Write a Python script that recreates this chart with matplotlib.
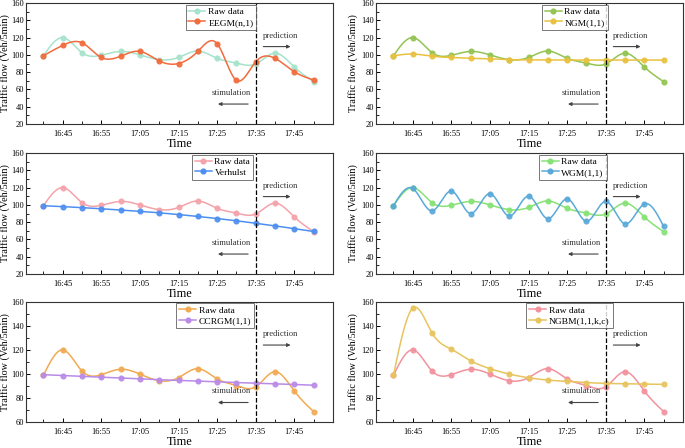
import numpy as np
import matplotlib
matplotlib.use("Agg")
import matplotlib.pyplot as plt

plt.rcParams["font.family"] = ["Liberation Serif", "DejaVu Serif"]

# time stamps (5 min steps)
times = ["16:40", "16:45", "16:50", "16:55", "17:00", "17:05", "17:10", "17:15",
         "17:20", "17:25", "17:30", "17:35", "17:40", "17:45", "17:50"]

raw = [99, 120, 102.5, 99.5, 104, 100, 94.5, 97, 104.5, 96, 90.5, 89.5, 102, 86, 69]
eegm = [99, 111, 114, 97, 98.5, 104, 93, 90, 104, 113, 70.5, 92, 96, 80.5, 71]
ngm = [99, 101, 98.5, 97, 96, 95.5, 94.5, 94.2, 94, 94, 94, 94, 94, 94, 94]
verhulst = [99, 98, 96.8, 95.5, 94, 92.5, 90.8, 88.8, 86.6, 84.2, 81.6, 78.7, 75.7, 72.5, 69.2]
wgm = [99, 119, 93, 116, 90, 113, 87, 110, 84, 107, 81, 104, 78, 101, 75]
ccrgm = [99.5, 98.8, 98.1, 97.4, 96.7, 96, 95.3, 94.8, 94.2, 93.6, 93, 92.5, 92, 91.4, 90.8]
ngbm = [99, 154.5, 134, 120.5, 111, 104.5, 100, 97, 95, 94, 93, 92.3, 92, 91.8, 91.5]

split_idx = 11   # 17:35 boundary between stimulation and prediction


def spline(x, y, n=400):
    # natural cubic spline, only used to draw a smooth connecting line
    x = np.asarray(x, float)
    y = np.asarray(y, float)
    m = len(x)
    h = np.diff(x)
    A = np.zeros((m, m))
    b = np.zeros(m)
    A[0, 0] = A[-1, -1] = 1
    for i in range(1, m - 1):
        A[i, i - 1] = h[i - 1]
        A[i, i] = 2 * (h[i - 1] + h[i])
        A[i, i + 1] = h[i]
        b[i] = 3 * ((y[i + 1] - y[i]) / h[i] - (y[i] - y[i - 1]) / h[i - 1])
    c = np.linalg.solve(A, b)
    xs = np.linspace(x[0], x[-1], n)
    k = np.clip(np.searchsorted(x, xs) - 1, 0, m - 2)
    dx = xs - x[k]
    bb = (y[k + 1] - y[k]) / h[k] - h[k] * (2 * c[k] + c[k + 1]) / 3
    d = (c[k + 1] - c[k]) / (3 * h[k])
    ys = y[k] + bb * dx + c[k] * dx ** 2 + d * dx ** 3
    return xs, ys


panels = [
    (eegm, "EEGM(n,1)", "#a6e3cc", "#f26b3c", (20, 160), (0.52, 0.985)),
    (ngm, "NGM(1,1)", "#93c452", "#e9c13f", (20, 160), (0.54, 0.985)),
    (verhulst, "Verhulst", "#f4a3aa", "#4d8ff0", (20, 160), (0.54, 0.985)),
    (wgm, "WGM(1,1)", "#86e276", "#5aa9d9", (20, 160), (0.53, 0.985)),
    (ccrgm, "CCRGM(1,1)", "#f2aa52", "#b98ae8", (60, 160), (0.49, 0.985)),
    (ngbm, "NGBM(1,1,k,c)", "#f2929e", "#e8c45e", (60, 160), (0.49, 0.985)),
]

fig = plt.figure(figsize=(6.85, 4.48), dpi=100)
lefts = [0.038, 0.549]
ylab_x = [-0.052, -0.06]
bottoms = [0.7232, 0.3884, 0.0570]
x = np.arange(len(times))

for p, (model, name, c_raw, c_mod, ylim, leg_pos) in enumerate(panels):
    ax = fig.add_axes([lefts[p % 2], bottoms[p // 2], 0.448, 0.27])
    for vals, col, lab in [(raw, c_raw, "Raw data"), (model, c_mod, name)]:
        xs, ys = spline(x, vals)
        ax.plot(xs, ys, color=col, lw=1.1)
        ax.plot(x, vals, "o", ms=3.4, color=col, mec=col, mfc=col, alpha=0.9)
        ax.plot([], [], "-o", color=col, ms=3.4, lw=1.1, label=lab)
    ax.axvline(split_idx, color="black", ls="--", lw=0.9)

    ax.set_xlim(-0.9, 15.0)
    ax.set_ylim(*ylim)
    ax.set_xticks(x[1::2])
    ax.set_xticklabels(times[1::2])
    ax.set_xticks(x[0::2], minor=True)
    ax.set_yticks(np.arange(ylim[0], 161, 20))
    ax.set_yticks(np.arange(ylim[0], 161, 10), minor=True)
    ax.tick_params(direction="in", labelsize=6, length=3, width=0.7, pad=1.5)
    ax.tick_params(which="minor", direction="in", length=2, width=0.6)
    ax.tick_params(axis="x", pad=4)
    for s in ax.spines.values():
        s.set_linewidth(0.8)
        s.set_color("#333333")

    ax.set_xlabel("Time", fontsize=8.8, labelpad=0)
    ax.set_ylabel("Traffic flow (Veh/5min)", fontsize=7.3)
    ax.yaxis.set_label_coords(ylab_x[p % 2], 0.5)

    leg = ax.legend(loc="upper left", bbox_to_anchor=leg_pos, fontsize=6.8,
                    frameon=True, fancybox=False, edgecolor="#555555",
                    handlelength=1.8, borderpad=0.3, labelspacing=0.2,
                    handletextpad=0.3, borderaxespad=0)
    leg.get_frame().set_linewidth(0.7)

    # stimulation / prediction notes
    ax.text(11.35, 0.73, "prediction", transform=ax.get_xaxis_transform(),
            fontsize=6.2, ha="left", va="center", color="#333333")
    ax.annotate("", xy=(12.95, 0.64), xytext=(11.25, 0.64),
                xycoords=ax.get_xaxis_transform(),
                arrowprops=dict(arrowstyle="-|>", color="#444444", lw=0.8,
                                mutation_scale=5))
    ax.text(9.75, 0.26, "stimulation", transform=ax.get_xaxis_transform(),
            fontsize=6.2, ha="center", va="center", color="#333333")
    ax.annotate("", xy=(8.9, 0.165), xytext=(10.75, 0.165),
                xycoords=ax.get_xaxis_transform(),
                arrowprops=dict(arrowstyle="-|>", color="#444444", lw=0.8,
                                mutation_scale=5))

fig.savefig("out.png", dpi=100)
plt.close(fig)
